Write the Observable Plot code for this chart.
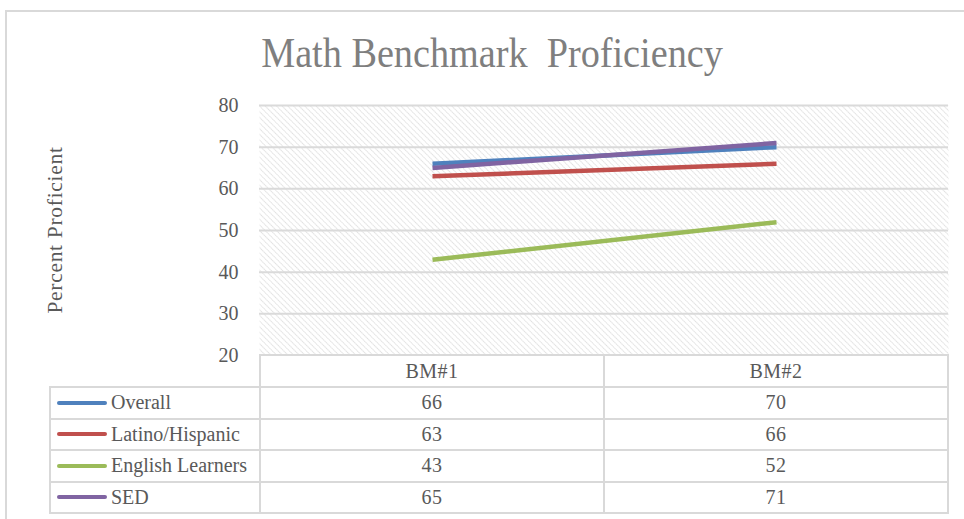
<!DOCTYPE html>
<html><head><meta charset="utf-8">
<script src="https://cdn.jsdelivr.net/npm/d3@7"></script>
<script src="https://cdn.jsdelivr.net/npm/@observablehq/plot@0.6"></script>
<style>
body{margin:0;background:#fff;}
#wrap{position:relative;width:964px;height:519px;overflow:hidden;font-family:"Liberation Serif",serif;background:#fff;}
#border{position:absolute;left:5px;top:10px;width:1000px;height:600px;border:2px solid #d9d9d9;box-sizing:border-box}
#title{position:absolute;top:29px;left:10px;width:964px;text-align:center;font-family:"Liberation Serif",serif;font-size:42px;color:#7f7f7f;white-space:pre;transform:scaleX(0.91);transform-origin:50% 0;}
#ylabel{position:absolute;left:55px;top:230px;transform:translate(-50%,-50%) rotate(-90deg);font-family:"Liberation Serif",serif;font-size:21.5px;letter-spacing:0.7px;color:#595959;white-space:nowrap;}
#chart{position:absolute;left:0;top:0;}
.hl,.vl{position:absolute;background:#d9d9d9;}
.cell{position:absolute;display:flex;align-items:center;justify-content:center;font-family:"Liberation Serif",serif;font-size:20px;letter-spacing:0.5px;color:#595959;}
.leg{position:absolute;display:flex;align-items:center;font-family:"Liberation Serif",serif;font-size:20px;color:#595959;white-space:nowrap;}
.sw{display:inline-block;width:50px;height:4px;border-radius:2px;margin-right:4px;}
</style></head>
<body><div id="wrap"><div id="border"></div><div id="chart"></div><div id="title">Math Benchmark  Proficiency</div><div id="ylabel">Percent Proficient</div></div>
<script>
const categories = ["BM#1", "BM#2"];
const seriesNames = ["Overall", "Latino/Hispanic", "English Learners", "SED"];
const overall = [66, 70];
const latino = [63, 66];
const englishLearners = [43, 52];
const sed = [65, 71];
const seriesColors = ["#4f81bd", "#c0504d", "#9bbb59", "#8064a2"];
const yTicks = [20, 30, 40, 50, 60, 70, 80];

const seriesValues = [overall, latino, englishLearners, sed];
const data = [];
seriesNames.forEach((s, i) => categories.forEach((c, j) => data.push({series: s, cat: c, value: seriesValues[i][j]})));

const plot = Plot.plot({
  width: 964, height: 360,
  marginLeft: 259, marginRight: 16, marginTop: 105, marginBottom: 5,
  x: {type: "point", domain: categories, padding: 0.5, axis: null},
  y: {domain: [20, 80], ticks: yTicks, label: null},
  color: {domain: seriesNames, range: seriesColors},
  style: {fontFamily: "Liberation Serif, serif", background: "transparent", overflow: "visible"},
  marks: [
    Plot.frame({fill: "url(#hatch)", stroke: null}),
    Plot.gridY(yTicks.filter(t => t > 20), {stroke: "#dadada", strokeWidth: 2, strokeOpacity: 1}),
    Plot.axisY({ticks: yTicks, tickSize: 0, tickPadding: 21, label: null, fontSize: 20, fill: "#595959", style: {letterSpacing: "2px"}}),
    Plot.line(data, {x: "cat", y: "value", z: "series", stroke: "series", strokeWidth: 4.5, strokeLinecap: "butt"})
  ]
});
const ns = "http://www.w3.org/2000/svg";
const defs = document.createElementNS(ns, "defs");
defs.innerHTML = `<pattern id="hatch" width="4" height="4" patternUnits="userSpaceOnUse" patternTransform="rotate(-45)"><rect width="4" height="4" fill="#fff"/><line x1="0" y1="0" x2="0" y2="4" stroke="#d0d0d0" stroke-width="1.3" stroke-dasharray="1.4 0.6"/></pattern>`;
plot.insertBefore(defs, plot.firstChild);
document.getElementById("chart").appendChild(plot);

// Data table below, columns aligned with the plot's x scale
const wrap = document.getElementById("wrap");
const xs = plot.scale("x");
const step = xs.apply(categories[1]) - xs.apply(categories[0]);
const ys = plot.scale("y");
const tableTop = ys.apply(20);
const headerH = 32, rowH = 31.5, legLeft = 50;
const colLeft = categories.map(c => xs.apply(c) - step / 2);
const tableRight = colLeft[colLeft.length - 1] + step;
const bottom = tableTop + headerH + rowH * seriesNames.length;
function add(cls, l, t, w, h, html) {
  const d = document.createElement("div"); d.className = cls;
  Object.assign(d.style, {left: l + "px", top: t + "px", width: w + "px", height: h + "px"});
  if (html != null) d.innerHTML = html;
  wrap.appendChild(d); return d;
}
add("hl", colLeft[0] - 1, tableTop - 1, tableRight - colLeft[0] + 2, 2);
for (let i = 0; i <= seriesNames.length; i++) {
  const y = tableTop + headerH + rowH * i;
  add("hl", legLeft - 1, y - 1, tableRight - legLeft + 2, 2);
}
add("vl", legLeft - 1, tableTop + headerH - 1, 2, bottom - tableTop - headerH + 2);
colLeft.forEach(l => add("vl", l - 1, tableTop - 1, 2, bottom - tableTop + 2));
add("vl", tableRight - 1, tableTop - 1, 2, bottom - tableTop + 2);
categories.forEach((c, j) => add("cell", colLeft[j], tableTop, step, headerH, c));
seriesNames.forEach((s, i) => {
  const y = tableTop + headerH + rowH * i;
  add("leg", legLeft + 7, y, colLeft[0] - legLeft - 7, rowH, `<span class="sw" style="background:${seriesColors[i]}"></span>${s}`);
  categories.forEach((c, j) => add("cell", colLeft[j], y, step, rowH, String(seriesValues[i][j])));
});
</script></body></html>
